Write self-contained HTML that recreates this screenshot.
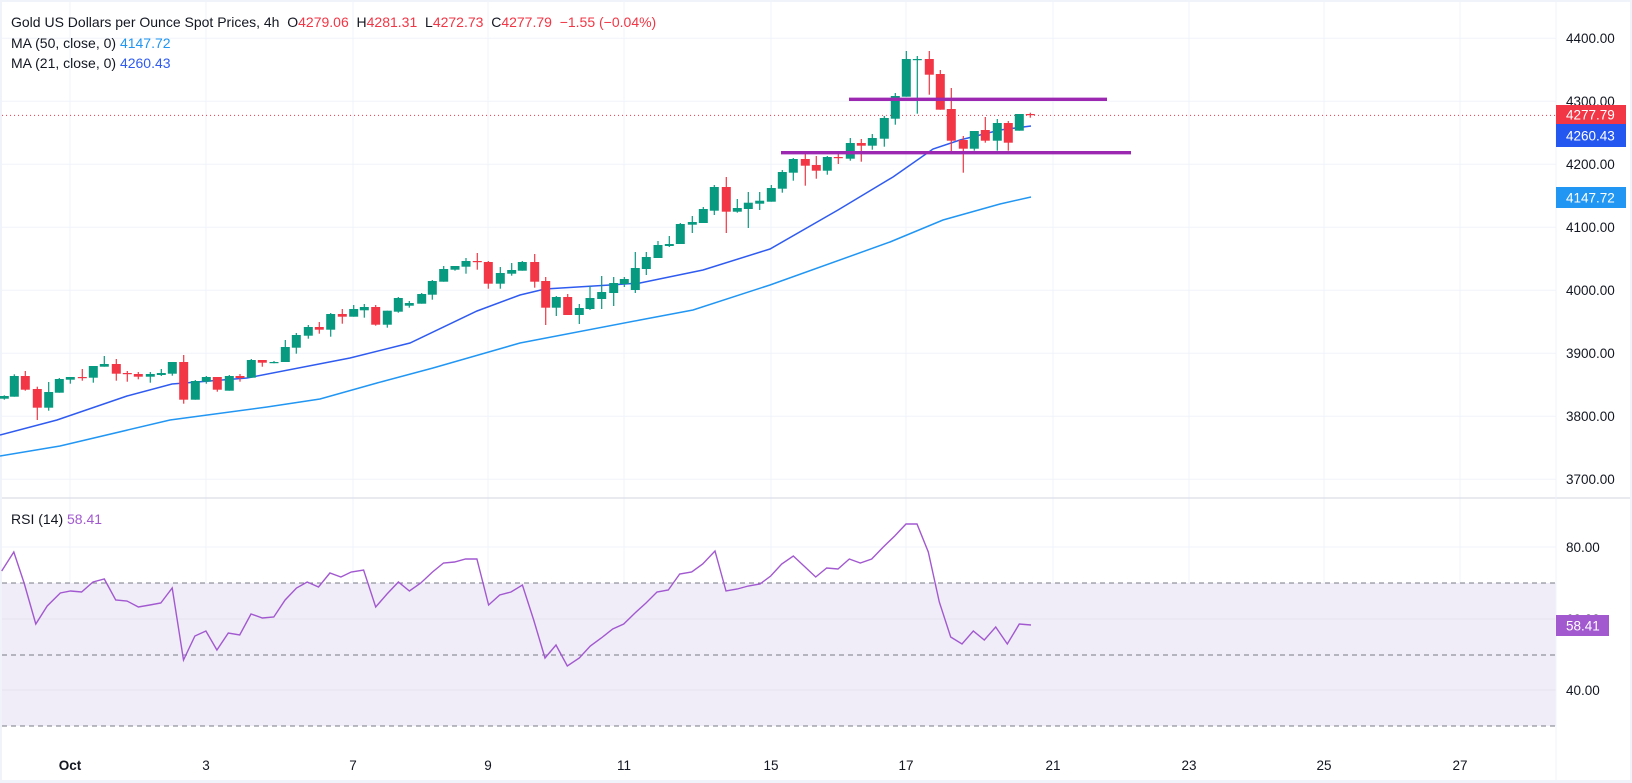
<!DOCTYPE html>
<html><head><meta charset="utf-8"><style>
html,body{margin:0;padding:0;background:#f0f3fa;}
#wrap{position:absolute;left:0;top:0;width:1632px;height:783px;overflow:hidden;font-family:"Liberation Sans",sans-serif;}
svg text{font-family:"Liberation Sans",sans-serif;}
</style></head><body><div id="wrap">
<svg id="s" width="1632" height="783" xmlns="http://www.w3.org/2000/svg">
<rect x="2" y="2" width="1628" height="778" fill="#fff"/>
<g id="grid" stroke="#f0f3fa" stroke-width="1"></g>
<rect x="2" y="583" width="1554" height="143" fill="#f0ecf8"/>
<g id="grid2" stroke="#e6e3ee" stroke-width="1"></g>
<line x1="2" y1="498" x2="1630" y2="498" stroke="#e0e3eb" stroke-width="1.5"/>
<line x1="1556" y1="2" x2="1556" y2="780" stroke="#f0f3fa" stroke-width="1"/>
<g stroke="#787b86" stroke-width="1" stroke-dasharray="5,4">
<line x1="2" y1="583" x2="1556" y2="583"/><line x1="2" y1="655" x2="1556" y2="655"/><line x1="2" y1="726" x2="1556" y2="726"/>
</g>
<line x1="2" y1="115.4" x2="1556" y2="115.4" stroke="#f23645" stroke-width="1" stroke-dasharray="1,3"/>
<polyline fill="none" stroke="#2196f3" stroke-width="1.5" points="0,456 60,446 170,420 267,407 320,399 377,383 433,368 520,343 640,320 693,310 770,285 890,242 943,220 1000,204 1031,197"/>
<polyline fill="none" stroke="#2f5bf0" stroke-width="1.5" points="0,435 57,420 127,396 172,384 247,378 350,358 410,343 477,311 520,295 545,289 610,285 640,283 703,270 770,249 838,210 893,177 933,149 960,140 1000,130 1031,126"/>
<g id="c"></g>
<line x1="849" y1="99.3" x2="1107" y2="99.3" stroke="#9c27b0" stroke-width="3.3"/>
<line x1="781" y1="152.7" x2="1131" y2="152.7" stroke="#9c27b0" stroke-width="3.3"/>
<polyline fill="none" stroke="#a259d0" stroke-width="1.4" points="1.7,571 13.8,552 24.1,583 35.8,624 47.2,606 60.3,593 70.6,591 81.6,592 93,582 104.3,579 115.7,600 127,601 138.4,607 149.8,605 160.8,603 172.2,588 183.5,660 194.9,636 205.9,631 216.9,650 228.3,633 239.7,635 251,614 262.4,618 273.8,617 285.1,600 296.5,588 307.2,582 318.5,587 329.9,573 340.9,577 351.2,572 363.6,570 375.7,607 387,594 398.4,582 409.4,591 420.8,583 432.5,572 443.5,563 454.5,562 465.6,559 476.9,559 488.6,605 499.7,595 511,592 522.4,585 533.7,620 545,658 556,645 567.3,666 579.3,658 590.3,646 601.3,638 612.7,629 623.7,624 635,613 646,603 657,592 668.3,590 679.7,574 691.7,572 702.7,564 715,551 726,591 737.3,589 748.3,586 760,584 770.7,576 781.7,564 793.3,556 804,566 815.7,577 826.7,568 838,569 849.3,559 860.3,563 871.7,559 883.3,547 894.7,536 906,524 917,524 928.3,552 939.3,602 950.7,637 962,644 973.3,631 984.3,640 995.7,627 1007.3,644 1019.3,624 1031,625"/>
<g font-size="13.5" fill="#131722">
<text x="1566" y="43">4400.00</text><text x="1566" y="106">4300.00</text><text x="1566" y="169">4200.00</text><text x="1566" y="232">4100.00</text><text x="1566" y="295">4000.00</text><text x="1566" y="358">3900.00</text><text x="1566" y="421">3800.00</text><text x="1566" y="484">3700.00</text>
<text x="1566" y="552">80.00</text><text x="1566" y="624">60.00</text><text x="1566" y="695">40.00</text>
</g>
<rect x="1556" y="105" width="70" height="19" fill="#f23645"/><text x="1566" y="119.5" font-size="13.5" fill="#fff">4277.79</text>
<rect x="1556" y="124" width="70" height="23" fill="#2456f0"/><text x="1566" y="140.5" font-size="13.5" fill="#fff">4260.43</text>
<rect x="1556" y="187" width="70" height="21" fill="#2196f3"/><text x="1566" y="202.5" font-size="13.5" fill="#fff">4147.72</text>
<rect x="1556" y="615" width="53" height="21" fill="#a259d0"/><text x="1566" y="630.5" font-size="13.5" fill="#fff">58.41</text>
<g font-size="13.5" fill="#131722" text-anchor="middle">
<text x="70" y="770" font-weight="bold">Oct</text><text x="206" y="770">3</text><text x="353" y="770">7</text><text x="488" y="770">9</text><text x="624" y="770">11</text><text x="771" y="770">15</text><text x="906" y="770">17</text><text x="1053" y="770">21</text><text x="1189" y="770">23</text><text x="1324" y="770">25</text><text x="1460" y="770">27</text>
</g>
<text x="11" y="27" font-size="14" fill="#131722" xml:space="preserve">Gold US Dollars per Ounce Spot Prices, 4h  O<tspan fill="#f23645">4279.06</tspan>  H<tspan fill="#f23645">4281.31</tspan>  L<tspan fill="#f23645">4272.73</tspan>  C<tspan fill="#f23645">4277.79</tspan>  <tspan fill="#f23645">−1.55 (−0.04%)</tspan></text>
<text x="11" y="48" font-size="14" fill="#131722">MA (50, close, 0)  <tspan fill="#2196f3">4147.72</tspan></text>
<text x="11" y="68" font-size="14" fill="#131722">MA (21, close, 0)  <tspan fill="#2f5bf0">4260.43</tspan></text>
<text x="11" y="524" font-size="14" fill="#131722">RSI (14)  <tspan fill="#a259d0">58.41</tspan></text>
</svg></div>
<script>
var NS="http://www.w3.org/2000/svg";
function el(p,t,a){var e=document.createElementNS(NS,t);for(var k in a)e.setAttribute(k,a[k]);p.appendChild(e);return e;}
var g=document.getElementById('grid'),g2=document.getElementById('grid2');
[70,206,353,488,624,771,906,1053,1189,1324,1460].forEach(function(x){el(g,'line',{x1:x,y1:2,x2:x,y2:727});});
[38.3,101.2,164.2,227.2,290.2,353.2,416.2,479.2].forEach(function(y){el(g,'line',{x1:2,y1:y,x2:1556,y2:y});});
el(g,'line',{x1:2,y1:547,x2:1556,y2:547});
el(g2,'line',{x1:2,y1:619,x2:1556,y2:619});el(g2,'line',{x1:2,y1:690,x2:1556,y2:690});
var C=[
[4.3,'G',396,398.7,395.3,399.7],[14.3,'G',376,396.7,374.3,396.7],[25.3,'R',376,389.7,371,390.7],[37.3,'R',389,407.7,386.7,420],[48.7,'G',392,407.7,382,410.7],[59.3,'G',379,392.7,378,392.7],[70.3,'G',377,379.7,377,383.7],[82.3,'R',377,377.7,369,380.7],[93.3,'G',366,377.7,366,382.7],[104.3,'G',364,366.7,356,366.7],[116.3,'R',364,373.7,359,380.7],[127.3,'R',373,373.7,371,381.7],[138.3,'R',374,376.7,372,379.3],[150.3,'G',374,376.7,372,382.7],[161.3,'G',373,375,369,376],[172.3,'G',362,373.7,362,375.7],[183.7,'R',362,399.7,355,403.7],[195.3,'G',381,399.7,380,399.7],[206.3,'G',377,381.7,376,383.7],[217.3,'R',377,389.7,377,391.7],[229.3,'G',376,390.7,375,390.7],[240,'R',376,378,374,381.7],[251.3,'G',360,377.7,359,377.7],[262.3,'R',360,362.7,360,366.7],[274,'G',362,363,361,363.3],[285.3,'G',347,362,340,362],[296.3,'G',335,347.7,333,353.7],[308.3,'G',327,335.7,325,338.7],[319.3,'R',327,329.7,322,333.7],[330.7,'G',314,329.7,313,336.7],[342.3,'R',314,316.7,309,323.7],[353.7,'G',309,316.7,305,316.7],[364.3,'G',307,310.3,304,317.7],[375.7,'R',307,324.7,305,325.7],[387.3,'G',310.7,324.7,310.7,327.7],[398.3,'G',298,311.7,297,312.7],[409.3,'G',303,305.7,301,307.7],[421.7,'G',294,303.7,293,303.7],[432.3,'G',281,294.7,280,299.7],[443.7,'G',269,281.7,266,281.7],[455,'G',266,269.7,266,270.7],[466,'G',261,266.7,258,273.7],[477.3,'R',261,262,253,269.7],[488.3,'R',262,283.7,261,288.7],[500.3,'G',273,283.7,267,288.7],[511.7,'G',270,273.7,263,275.7],
[522.3,'G',262,270.7,261,270.7],[534.7,'R',262,281.7,254,287.7],[545.7,'R',281,307.7,277,325],[556.3,'G',297,307.7,296,316],[567.7,'R',297,315,294,315],[579.3,'G',308,315,304,324],[590,'G',298,309,286,310],[601.7,'G',292,299,276,309],[613.7,'G',283,293,277,306],[624.3,'G',279,284,277,287],[635.3,'G',268,290,252,293],[646.3,'G',257,269,252,275],[658,'G',245,258,241,258],[669.3,'G',244,246,236,247],[680.3,'G',224,244,223,244],[692.3,'G',222,224.7,216,233],[703.3,'G',209,223,207,223],[714.3,'G',187,210.7,185,215],[726.3,'R',187,211.7,177,233],[737.3,'G',208,211.7,199,212.7],[748.3,'G',202.7,209,192,228],[759.7,'G',200.7,203.7,192,210],[771.3,'G',188,201.7,185,201.7],[782.3,'G',172,188.7,170,192.7],[793.3,'G',159,172.7,158,180.7],[805.3,'R',159,165.7,153,185.7],[816.3,'R',165,170.7,156,178.7],[827.3,'G',157,170.7,156,174.7],[838.3,'R',157,157.7,154,164],[850.3,'G',143,158.7,138,160.7],[861.3,'R',143,145.7,139,161.7],[872.3,'G',138,145.7,134,149.7],[884.3,'G',118,138.7,116,146.7],[895.3,'G',96,118.7,93,124.7],[906.3,'G',59,96.7,51,96.7],[917.3,'G',59,60,56,113.7],[929.3,'R',59,74.7,51,94.7],[940.3,'R',74,109.7,70,109.7],[951.3,'R',109,140.7,88,152.7],[963.3,'R',140,148.7,136,172.7],[974.3,'G',131,148.7,131,150.7],[985.3,'R',130,140.7,117,142.7],[997.3,'G',123,140.7,119,150.7],[1008.3,'R',123,142.7,121,150.7],[1019.3,'G',114,130.7,114,130.7],[1030.3,'R',114,115,112.7,117.7]];
var cg=document.getElementById('c');
C.forEach(function(c){var col=c[1]=='G'?'#089981':'#f23645';
el(cg,'rect',{x:c[0]-0.6,y:c[4],width:1.2,height:c[5]-c[4],fill:col});
var h=Math.max(1.2,c[3]-c[2]);el(cg,'rect',{x:c[0]-4.5,y:c[2],width:9,height:h,fill:col});});
</script>
</body></html>
